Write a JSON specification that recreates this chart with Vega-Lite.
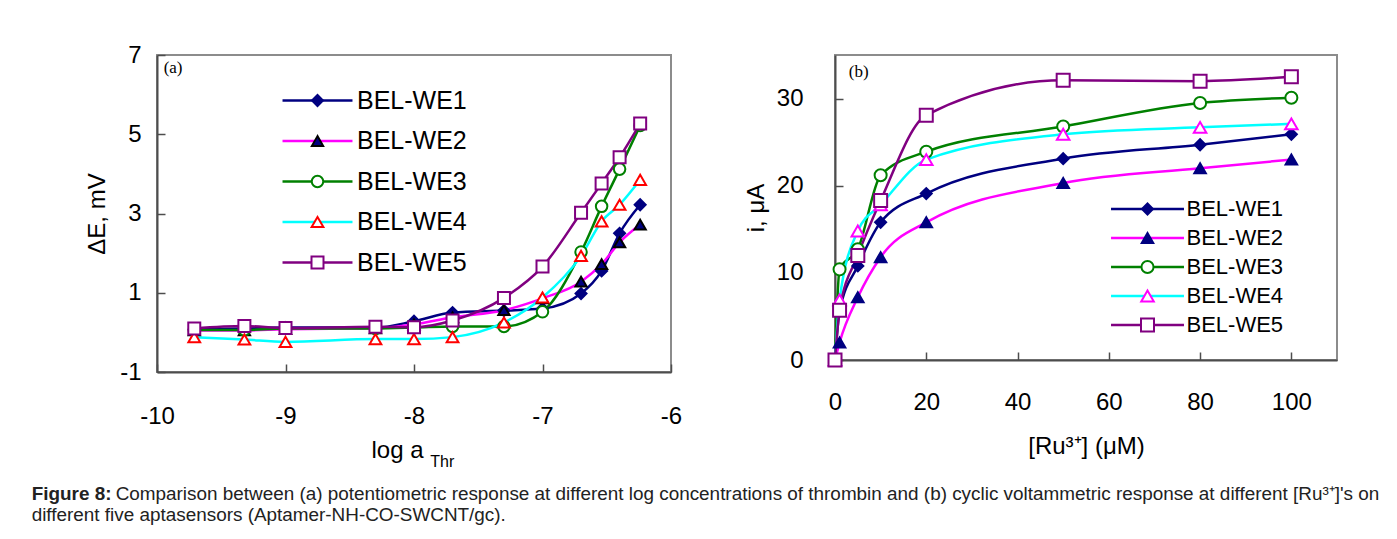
{
  "$schema": "https://vega.github.io/schema/vega-lite/v6.json",
  "background": "white",
  "padding": {"left": 31, "top": 42, "right": 5, "bottom": 5},
  "datasets": {
    "a": [
      {"series": "BEL-WE1", "logA": -9.71, "dE": 0.08}, {"series": "BEL-WE1", "logA": -9.32, "dE": 0.1}, {"series": "BEL-WE1", "logA": -9.0, "dE": 0.12}, {"series": "BEL-WE1", "logA": -8.3, "dE": 0.12}, {"series": "BEL-WE1", "logA": -8.0, "dE": 0.28}, {"series": "BEL-WE1", "logA": -7.7, "dE": 0.5}, {"series": "BEL-WE1", "logA": -7.3, "dE": 0.55}, {"series": "BEL-WE1", "logA": -7.0, "dE": 0.6}, {"series": "BEL-WE1", "logA": -6.7, "dE": 0.98}, {"series": "BEL-WE1", "logA": -6.54, "dE": 1.55}, {"series": "BEL-WE1", "logA": -6.4, "dE": 2.5}, {"series": "BEL-WE1", "logA": -6.24, "dE": 3.22},
      {"series": "BEL-WE2", "logA": -9.71, "dE": 0.05}, {"series": "BEL-WE2", "logA": -9.32, "dE": 0.05}, {"series": "BEL-WE2", "logA": -9.0, "dE": 0.08}, {"series": "BEL-WE2", "logA": -8.3, "dE": 0.1}, {"series": "BEL-WE2", "logA": -8.0, "dE": 0.2}, {"series": "BEL-WE2", "logA": -7.7, "dE": 0.38}, {"series": "BEL-WE2", "logA": -7.3, "dE": 0.56}, {"series": "BEL-WE2", "logA": -7.0, "dE": 0.86}, {"series": "BEL-WE2", "logA": -6.7, "dE": 1.28}, {"series": "BEL-WE2", "logA": -6.54, "dE": 1.72}, {"series": "BEL-WE2", "logA": -6.4, "dE": 2.27}, {"series": "BEL-WE2", "logA": -6.24, "dE": 2.72},
      {"series": "BEL-WE3", "logA": -9.71, "dE": 0.06}, {"series": "BEL-WE3", "logA": -9.32, "dE": 0.06}, {"series": "BEL-WE3", "logA": -9.0, "dE": 0.1}, {"series": "BEL-WE3", "logA": -8.3, "dE": 0.1}, {"series": "BEL-WE3", "logA": -8.0, "dE": 0.12}, {"series": "BEL-WE3", "logA": -7.7, "dE": 0.15}, {"series": "BEL-WE3", "logA": -7.3, "dE": 0.15}, {"series": "BEL-WE3", "logA": -7.0, "dE": 0.52}, {"series": "BEL-WE3", "logA": -6.7, "dE": 2.03}, {"series": "BEL-WE3", "logA": -6.54, "dE": 3.18}, {"series": "BEL-WE3", "logA": -6.4, "dE": 4.12}, {"series": "BEL-WE3", "logA": -6.24, "dE": 5.22},
      {"series": "BEL-WE4", "logA": -9.71, "dE": -0.12}, {"series": "BEL-WE4", "logA": -9.32, "dE": -0.18}, {"series": "BEL-WE4", "logA": -9.0, "dE": -0.24}, {"series": "BEL-WE4", "logA": -8.3, "dE": -0.17}, {"series": "BEL-WE4", "logA": -8.0, "dE": -0.17}, {"series": "BEL-WE4", "logA": -7.7, "dE": -0.12}, {"series": "BEL-WE4", "logA": -7.3, "dE": 0.25}, {"series": "BEL-WE4", "logA": -7.0, "dE": 0.88}, {"series": "BEL-WE4", "logA": -6.7, "dE": 1.93}, {"series": "BEL-WE4", "logA": -6.54, "dE": 2.8}, {"series": "BEL-WE4", "logA": -6.4, "dE": 3.22}, {"series": "BEL-WE4", "logA": -6.24, "dE": 3.85},
      {"series": "BEL-WE5", "logA": -9.71, "dE": 0.1}, {"series": "BEL-WE5", "logA": -9.32, "dE": 0.16}, {"series": "BEL-WE5", "logA": -9.0, "dE": 0.11}, {"series": "BEL-WE5", "logA": -8.3, "dE": 0.14}, {"series": "BEL-WE5", "logA": -8.0, "dE": 0.13}, {"series": "BEL-WE5", "logA": -7.7, "dE": 0.3}, {"series": "BEL-WE5", "logA": -7.3, "dE": 0.87}, {"series": "BEL-WE5", "logA": -7.0, "dE": 1.66}, {"series": "BEL-WE5", "logA": -6.7, "dE": 3.02}, {"series": "BEL-WE5", "logA": -6.54, "dE": 3.76}, {"series": "BEL-WE5", "logA": -6.4, "dE": 4.42}, {"series": "BEL-WE5", "logA": -6.24, "dE": 5.27}
    ],
    "b": [
      {"series": "BEL-WE1", "Ru": 0, "i": 0}, {"series": "BEL-WE1", "Ru": 1, "i": 5.6}, {"series": "BEL-WE1", "Ru": 5, "i": 10.8}, {"series": "BEL-WE1", "Ru": 10, "i": 15.8}, {"series": "BEL-WE1", "Ru": 20, "i": 19.1}, {"series": "BEL-WE1", "Ru": 50, "i": 23.1}, {"series": "BEL-WE1", "Ru": 80, "i": 24.7}, {"series": "BEL-WE1", "Ru": 100, "i": 25.9},
      {"series": "BEL-WE2", "Ru": 0, "i": 0}, {"series": "BEL-WE2", "Ru": 1, "i": 2.0}, {"series": "BEL-WE2", "Ru": 5, "i": 7.2}, {"series": "BEL-WE2", "Ru": 10, "i": 11.8}, {"series": "BEL-WE2", "Ru": 20, "i": 15.8}, {"series": "BEL-WE2", "Ru": 50, "i": 20.3}, {"series": "BEL-WE2", "Ru": 80, "i": 22.0}, {"series": "BEL-WE2", "Ru": 100, "i": 23.0},
      {"series": "BEL-WE3", "Ru": 0, "i": 0}, {"series": "BEL-WE3", "Ru": 1, "i": 10.4}, {"series": "BEL-WE3", "Ru": 5, "i": 12.7}, {"series": "BEL-WE3", "Ru": 10, "i": 21.2}, {"series": "BEL-WE3", "Ru": 20, "i": 23.9}, {"series": "BEL-WE3", "Ru": 50, "i": 26.8}, {"series": "BEL-WE3", "Ru": 80, "i": 29.5}, {"series": "BEL-WE3", "Ru": 100, "i": 30.1},
      {"series": "BEL-WE4", "Ru": 0, "i": 0}, {"series": "BEL-WE4", "Ru": 1, "i": 6.9}, {"series": "BEL-WE4", "Ru": 5, "i": 14.8}, {"series": "BEL-WE4", "Ru": 10, "i": 17.8}, {"series": "BEL-WE4", "Ru": 20, "i": 23.0}, {"series": "BEL-WE4", "Ru": 50, "i": 25.9}, {"series": "BEL-WE4", "Ru": 80, "i": 26.7}, {"series": "BEL-WE4", "Ru": 100, "i": 27.1},
      {"series": "BEL-WE5", "Ru": 0, "i": 0}, {"series": "BEL-WE5", "Ru": 1, "i": 5.7}, {"series": "BEL-WE5", "Ru": 5, "i": 12.0}, {"series": "BEL-WE5", "Ru": 10, "i": 18.3}, {"series": "BEL-WE5", "Ru": 20, "i": 28.1}, {"series": "BEL-WE5", "Ru": 50, "i": 32.1}, {"series": "BEL-WE5", "Ru": 80, "i": 32.0}, {"series": "BEL-WE5", "Ru": 100, "i": 32.5}
    ]
  },
  "title": {
    "text": "Figure 8:",
    "subtitle": ["\u200b\u00a0\u00a0\u00a0\u00a0\u00a0\u00a0\u00a0\u00a0\u00a0\u00a0\u00a0\u00a0\u00a0\u00a0\u00a0\u00a0Comparison between (a) potentiometric response at different log concentrations of thrombin and (b) cyclic voltammetric response at different [Ru³⁺]'s on", "different five aptasensors (Aptamer-NH-CO-SWCNT/gc)."],
    "orient": "bottom", "anchor": "start", "frame": "bounds",
    "font": "Liberation Sans", "fontSize": 18.9, "fontWeight": "bold", "color": "#222222",
    "subtitleFont": "Liberation Sans", "subtitleFontSize": 18.9, "subtitleColor": "#222222", "subtitleLineHeight": 21,
    "subtitlePadding": -19, "offset": 14, "dx": -53
  },
  "spacing": 60,
  "hconcat": [
    {
      "width": 514, "height": 317,
      "data": {"name": "a"},
      "layer": [
        {
          "mark": {"type": "line", "interpolate": "monotone", "strokeWidth": 2.5},
          "encoding": {
            "x": {"field": "logA", "type": "quantitative", "scale": {"domain": [-10, -6]},
                  "axis": {"title": "log a", "values": [-10, -9, -8, -7, -6], "labelExpr": "'' + datum.value", "labelPadding": 40, "titlePadding": 10, "titleX": 240, "tickSize": -8, "labelFlush": false}},
            "y": {"field": "dE", "type": "quantitative", "scale": {"domain": [-1, 7]},
                  "axis": {"title": "ΔE, mV", "values": [-1, 1, 3, 5, 7], "labelExpr": "'' + datum.value", "labelPadding": 24, "titlePadding": 10, "tickSize": -8}},
            "color": {"field": "series", "type": "nominal",
                      "scale": {"domain": ["BEL-WE1", "BEL-WE2", "BEL-WE3", "BEL-WE4", "BEL-WE5"], "range": ["#000080", "#FF00FF", "#008000", "#00FFFF", "#800080"]},
                      "legend": {"orient": "none", "legendX": 148, "legendY": 33, "title": null, "symbolType": "M-5.83,0H5.83", "symbolSize": 144, "symbolStrokeWidth": 2.5, "labelFont": "Liberation Sans", "labelFontSize": 25, "labelColor": "#000000", "labelOffset": 27, "rowPadding": 14.5, "padding": 0}}
          }
        },
        {
          "mark": {"type": "point", "filled": true, "opacity": 1, "strokeWidth": 2},
          "encoding": {
            "x": {"field": "logA", "type": "quantitative"},
            "y": {"field": "dE", "type": "quantitative"},
            "shape": {"field": "series", "type": "nominal", "scale": {"range": ["diamond", "triangle-up", "circle", "triangle-up", "square"]},
                      "legend": {"orient": "none", "legendX": 148, "legendY": 33, "title": null, "labelOpacity": 0, "labelFontSize": 25, "rowPadding": 14.5, "padding": 0, "symbolStrokeWidth": 2}},
            "fill": {"field": "series", "type": "nominal", "scale": {"range": ["#000080", "#000080", "#FFFFFF", "#FFFFFF", "#FFFFFF"]},
                      "legend": {"orient": "none", "legendX": 148, "legendY": 33, "title": null, "labelOpacity": 0, "labelFontSize": 25, "rowPadding": 14.5, "padding": 0, "symbolStrokeWidth": 2}},
            "stroke": {"field": "series", "type": "nominal", "scale": {"range": ["#000080", "#000000", "#008000", "#FF0000", "#800080"]},
                      "legend": {"orient": "none", "legendX": 148, "legendY": 33, "title": null, "labelOpacity": 0, "labelFontSize": 25, "rowPadding": 14.5, "padding": 0, "symbolStrokeWidth": 2}},
            "size": {"field": "series", "type": "nominal", "scale": {"range": [121, 144, 64, 144, 100]},
                      "legend": {"orient": "none", "legendX": 148, "legendY": 33, "title": null, "labelOpacity": 0, "labelFontSize": 25, "rowPadding": 14.5, "padding": 0, "symbolStrokeWidth": 2}}
          }
        },
        {
          "data": {"values": [{}]},
          "mark": {"type": "text", "text": "(a)", "font": "Liberation Serif", "fontSize": 17, "align": "center", "baseline": "middle", "color": "#000000"},
          "encoding": {"x": {"datum": -9.875}, "y": {"datum": 6.68}}
        },
        {
          "data": {"values": [{}]},
          "mark": {"type": "text", "text": "Thr", "font": "Liberation Sans", "fontSize": 16, "align": "center", "baseline": "middle", "color": "#000000"},
          "encoding": {"x": {"datum": -7.78}, "y": {"datum": -3.28}}
        }
      ]
    },
    {
      "width": 502, "height": 305,
      "data": {"name": "b"},
      "layer": [
        {
          "mark": {"type": "line", "interpolate": "monotone", "strokeWidth": 2.5},
          "encoding": {
            "x": {"field": "Ru", "type": "quantitative", "scale": {"domain": [0, 110]},
                  "axis": {"title": "[Ru³⁺] (μM)", "values": [0, 20, 40, 60, 80, 100], "labelPadding": 38, "titlePadding": 20, "tickSize": -8, "labelFlush": false}},
            "y": {"field": "i", "type": "quantitative", "scale": {"domain": [0, 35]},
                  "axis": {"title": "i, μA", "values": [0, 10, 20, 30], "labelPadding": 40, "titlePadding": 8, "tickSize": -8}},
            "color": {"field": "series", "type": "nominal",
                      "scale": {"domain": ["BEL-WE1", "BEL-WE2", "BEL-WE3", "BEL-WE4", "BEL-WE5"], "range": ["#000080", "#FF00FF", "#008000", "#00FFFF", "#800080"]},
                      "legend": {"orient": "none", "legendX": 301.5, "legendY": 143, "title": null, "symbolType": "M-6.08,0H6.08", "symbolSize": 144, "symbolStrokeWidth": 2.5, "labelFont": "Liberation Sans", "labelFontSize": 22, "labelColor": "#000000", "labelOffset": 28, "rowPadding": 7, "padding": 0}}
          }
        },
        {
          "mark": {"type": "point", "filled": true, "opacity": 1, "strokeWidth": 2},
          "encoding": {
            "x": {"field": "Ru", "type": "quantitative"},
            "y": {"field": "i", "type": "quantitative"},
            "shape": {"field": "series", "type": "nominal", "scale": {"range": ["diamond", "triangle-up", "circle", "triangle-up", "square"]},
                      "legend": {"orient": "none", "legendX": 301.5, "legendY": 143, "title": null, "labelOpacity": 0, "labelFontSize": 22, "rowPadding": 7, "padding": 0, "symbolStrokeWidth": 2}},
            "fill": {"field": "series", "type": "nominal", "scale": {"range": ["#000080", "#000080", "#FFFFFF", "#FFFFFF", "#FFFFFF"]},
                      "legend": {"orient": "none", "legendX": 301.5, "legendY": 143, "title": null, "labelOpacity": 0, "labelFontSize": 22, "rowPadding": 7, "padding": 0, "symbolStrokeWidth": 2}},
            "stroke": {"field": "series", "type": "nominal", "scale": {"range": ["#000080", "#000080", "#008000", "#FF00FF", "#800080"]},
                      "legend": {"orient": "none", "legendX": 301.5, "legendY": 143, "title": null, "labelOpacity": 0, "labelFontSize": 22, "rowPadding": 7, "padding": 0, "symbolStrokeWidth": 2}},
            "size": {"field": "series", "type": "nominal", "scale": {"range": [121, 169, 81, 169, 100]},
                      "legend": {"orient": "none", "legendX": 301.5, "legendY": 143, "title": null, "labelOpacity": 0, "labelFontSize": 22, "rowPadding": 7, "padding": 0, "symbolStrokeWidth": 2}}
          }
        },
        {
          "data": {"values": [{}]},
          "mark": {"type": "text", "text": "(b)", "font": "Liberation Serif", "fontSize": 17, "align": "center", "baseline": "middle", "color": "#000000"},
          "encoding": {"x": {"datum": 5.2}, "y": {"datum": 33.1}}
        }
      ]
    }
  ],
  "resolve": {
    "scale": {"color": "independent", "fill": "independent", "stroke": "independent", "shape": "independent", "size": "independent", "x": "independent", "y": "independent"},
    "legend": {"color": "independent", "fill": "independent", "stroke": "independent", "shape": "independent", "size": "independent"}
  },
  "config": {
    "view": {"stroke": "#8c8c8c", "strokeWidth": 2},
    "axis": {"domainColor": "#4d4d4d", "domainWidth": 2, "tickColor": "#4d4d4d", "tickWidth": 1.5, "grid": false,
             "labelFont": "Liberation Sans", "labelFontSize": 24, "labelColor": "#000000",
             "titleFont": "Liberation Sans", "titleFontSize": 24, "titleFontWeight": "normal", "titleColor": "#000000"}
  }
}
